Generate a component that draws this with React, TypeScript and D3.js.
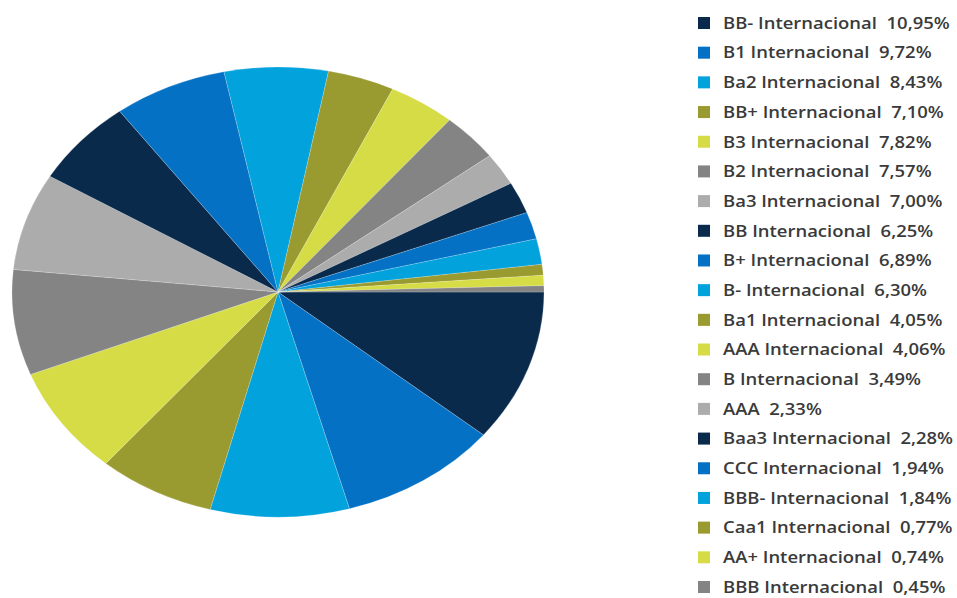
import React from "react";
import * as d3 from "d3";

const labels = [
  "BB- Internacional",
  "B1 Internacional",
  "Ba2 Internacional",
  "BB+ Internacional",
  "B3 Internacional",
  "B2 Internacional",
  "Ba3 Internacional",
  "BB Internacional",
  "B+ Internacional",
  "B- Internacional",
  "Ba1 Internacional",
  "AAA Internacional",
  "B Internacional",
  "AAA",
  "Baa3 Internacional",
  "CCC Internacional",
  "BBB- Internacional",
  "Caa1 Internacional",
  "AA+ Internacional",
  "BBB Internacional",
];

const values = [
  10.95, 9.72, 8.43, 7.1, 7.82, 7.57, 7.0, 6.25, 6.89, 6.3, 4.05, 4.06, 3.49,
  2.33, 2.28, 1.94, 1.84, 0.77, 0.74, 0.45,
];

const valueLabels = [
  "10,95%", "9,72%", "8,43%", "7,10%", "7,82%", "7,57%", "7,00%", "6,25%",
  "6,89%", "6,30%", "4,05%", "4,06%", "3,49%", "2,33%", "2,28%", "1,94%",
  "1,84%", "0,77%", "0,74%", "0,45%",
];

const palette = [
  "#0a2a4c", // navy
  "#0571c4", // blue
  "#02a2dd", // light blue
  "#999a2f", // olive
  "#d5dc45", // yellow-green
  "#848484", // gray
  "#acacac", // light gray
];

const W = 957;
const H = 598;
const cx = 278;
const cy = 292;
const rx = 266;
const ry = 225;

export default function App() {
  const data = values.map((v, i) => ({ label: labels[i], value: v, vl: valueLabels[i], i }));
  const pie = d3
    .pie<any>()
    .sort(null)
    .value((d) => d.value)
    .startAngle(Math.PI / 2)
    .endAngle(Math.PI / 2 + 2 * Math.PI);
  const arcs = pie(data);
  const arc = d3.arc<any>().innerRadius(0).outerRadius(rx);
  const color = d3.scaleOrdinal<number, string>().domain(d3.range(7)).range(palette);

  const y = d3.scaleLinear().domain([0, labels.length - 1]).range([23, 587]);

  return (
    <div style={{ position: "fixed", left: 0, top: 0 }}>
      <svg width={W} height={H} style={{ display: "block", background: "#fff" }}>
        <g transform={`translate(${cx},${cy}) scale(1,${ry / rx})`}>
          {arcs.map((a, k) => (
            <path
              key={k}
              d={arc(a) as string}
              fill={color(k % 7)}
              stroke="#ffffff"
              strokeOpacity={0.35}
              strokeWidth={0.6}
            />
          ))}
        </g>
        <g fontFamily="'Open Sans', sans-serif" fontSize={16.5} fontWeight={600} fill="#3a3a3a">
          {data.map((d, i) => (
            <g key={i} transform={`translate(0,${y(i)})`}>
              <rect x={698} y={-6} width={12} height={12} fill={color(i % 7)} />
              <text
                transform="translate(723,0) scale(1.12,1)"
                dy="0.35em"
                style={{ whiteSpace: "pre" }}
              >
                {d.label + "  " + d.vl}
              </text>
            </g>
          ))}
        </g>
      </svg>
    </div>
  );
}
